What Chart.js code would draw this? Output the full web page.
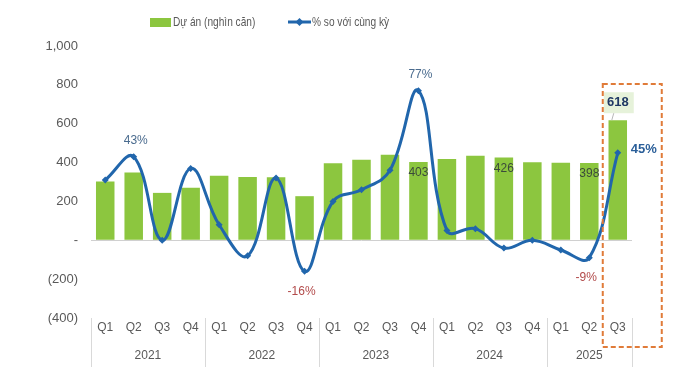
<!DOCTYPE html>
<html>
<head>
<meta charset="utf-8">
<script src="https://cdn.jsdelivr.net/npm/chart.js@4.4.0/dist/chart.umd.min.js"></script>
<style>
  html, body { margin: 0; padding: 0; background: #fff; }
  #wrap { width: 698px; height: 367px; }
</style>
</head>
<body>
<div id="wrap"><canvas id="chart" width="698" height="367"></canvas></div>
<script>
// quarter / year labels
const quarters = ['Q1','Q2','Q3','Q4','Q1','Q2','Q3','Q4','Q1','Q2','Q3','Q4','Q1','Q2','Q3','Q4','Q1','Q2','Q3'];
const years = ['2021', '2022', '2023', '2024', '2025'];
const yearSpans = [4, 4, 4, 4, 3];

// Dự án (nghìn căn)
const projects = [303, 349, 244, 271, 332, 326, 324, 227, 397, 414, 440, 403, 419, 435, 426, 402, 399, 398, 618];
// % so với cùng kỳ
const yoyPct = [31, 43, 0, 37, 8, -8, 32, -16, 20, 26, 36, 77, 5, 6, -4, 0, -5, -9, 45];

// which points get a value label
const barLabelIdx = [11, 14, 17, 18];
const pctLabelIdx = [1, 7, 11, 17, 18];

const GREEN = '#8cc63f';
const BLUE = '#2166ac';
const GREY = '#595959';
const FONT = '"Liberation Sans", Arial, sans-serif';

function yTick(v) {
  if (v === 0) return '-';
  if (v < 0) return '(' + Math.abs(v).toLocaleString('en-US') + ')';
  return v.toLocaleString('en-US');
}

// narrow-looking legend text (no condensed font installed)
function narrowText(ctx, txt, x, y) {
  ctx.save();
  ctx.translate(x, y);
  ctx.scale(0.78, 1);
  ctx.fillText(txt, 0, 0);
  ctx.restore();
}

const overlay = {
  id: 'overlay',
  afterDatasetsDraw(chart) {
    const ctx = chart.ctx;
    const x = chart.scales.x;
    const area = chart.chartArea;
    const barMeta = chart.getDatasetMeta(1);
    const lineMeta = chart.getDatasetMeta(0);
    ctx.save();

    // bar value labels
    barLabelIdx.forEach(i => {
      const el = barMeta.data[i];
      const v = projects[i];
      ctx.textAlign = 'center';
      ctx.textBaseline = 'middle';
      if (i === projects.length - 1) {
        const ty = el.y - 18;
        ctx.fillStyle = '#e6f2da';
        ctx.fillRect(el.x - 14, ty - 10, 30, 21);
        ctx.strokeStyle = '#b8b8b8';
        ctx.lineWidth = 1;
        ctx.beginPath();
        ctx.moveTo(el.x - 4, ty + 11);
        ctx.lineTo(el.x - 6, el.y);
        ctx.stroke();
        ctx.font = 'bold 13px ' + FONT;
        ctx.fillStyle = '#1f3864';
        ctx.fillText(String(v), el.x, ty);
      } else {
        ctx.font = '12px ' + FONT;
        ctx.fillStyle = '#3b4a3b';
        ctx.fillText(String(v), el.x, el.y + 11);
      }
    });

    // percentage labels
    pctLabelIdx.forEach(i => {
      const el = lineMeta.data[i];
      const v = yoyPct[i];
      const txt = v + '%';
      ctx.textBaseline = 'middle';
      if (i === yoyPct.length - 1) {
        ctx.font = 'bold 13px ' + FONT;
        ctx.fillStyle = '#2b5f99';
        ctx.textAlign = 'left';
        ctx.fillText(txt, el.x + 13, el.y - 3);
      } else if (v < 0) {
        ctx.font = '12px ' + FONT;
        ctx.fillStyle = '#b24a4a';
        ctx.textAlign = 'center';
        ctx.fillText(txt, el.x - 3, el.y + 20);
      } else {
        ctx.font = '12px ' + FONT;
        ctx.fillStyle = '#4a6b8e';
        ctx.textAlign = 'center';
        ctx.fillText(txt, el.x + 2, el.y - 16);
      }
    });

    // dashed highlight box around the last quarter
    const last = x.getPixelForValue(quarters.length - 1);
    ctx.strokeStyle = '#e07b39';
    ctx.lineWidth = 2;
    ctx.setLineDash([5, 3]);
    ctx.strokeRect(last - 15, area.top + 38, 59, 263);
    ctx.setLineDash([]);
    ctx.restore();
  },
  afterDraw(chart) {
    const ctx = chart.ctx;
    const x = chart.scales.x;
    const area = chart.chartArea;
    const half = (x.getPixelForValue(1) - x.getPixelForValue(0)) / 2;
    ctx.save();

    // year groups under the quarters
    ctx.strokeStyle = '#d9d9d9';
    ctx.lineWidth = 1;
    ctx.font = '12px ' + FONT;
    ctx.fillStyle = GREY;
    ctx.textAlign = 'center';
    ctx.textBaseline = 'middle';
    let start = 0;
    const drawSep = px => {
      ctx.beginPath();
      ctx.moveTo(Math.round(px) + 0.5, area.bottom);
      ctx.lineTo(Math.round(px) + 0.5, chart.height);
      ctx.stroke();
    };
    drawSep(x.getPixelForValue(0) - half);
    years.forEach((y, k) => {
      const end = start + yearSpans[k] - 1;
      const a = x.getPixelForValue(start) - half;
      const b = x.getPixelForValue(end) + half;
      drawSep(b);
      ctx.fillText(y, (a + b) / 2, area.bottom + 38);
      start = end + 1;
    });

    // legend
    ctx.font = '13px ' + FONT;
    ctx.textAlign = 'left';
    ctx.fillStyle = GREEN;
    ctx.fillRect(150, 18, 21, 9);
    ctx.fillStyle = GREY;
    narrowText(ctx, 'Dự án (nghìn căn)', 173, 22);
    ctx.strokeStyle = BLUE;
    ctx.lineWidth = 3;
    ctx.beginPath();
    ctx.moveTo(288, 22);
    ctx.lineTo(311, 22);
    ctx.stroke();
    ctx.fillStyle = BLUE;
    ctx.beginPath();
    ctx.moveTo(299.5, 18);
    ctx.lineTo(303.5, 22);
    ctx.lineTo(299.5, 26);
    ctx.lineTo(295.5, 22);
    ctx.closePath();
    ctx.fill();
    ctx.fillStyle = GREY;
    narrowText(ctx, '% so với cùng kỳ', 312, 22);
    ctx.restore();
  }
};

new Chart(document.getElementById('chart'), {
  data: {
    labels: quarters,
    datasets: [{
      type: 'line',
      label: '% so với cùng kỳ',
      data: yoyPct,
      yAxisID: 'y1',
      borderColor: BLUE,
      backgroundColor: BLUE,
      borderWidth: 3,
      tension: 0.4,
      pointStyle: 'rectRot',
      pointRadius: 3.5,
      pointBackgroundColor: BLUE,
      pointBorderWidth: 0,
      order: 0
    }, {
      type: 'bar',
      label: 'Dự án (nghìn căn)',
      data: projects,
      yAxisID: 'y',
      backgroundColor: GREEN,
      barPercentage: 0.65,
      categoryPercentage: 1,
      order: 1
    }]
  },
  options: {
    responsive: false,
    animation: false,
    layout: { padding: { top: 46, right: 66, left: 0, bottom: 0 } },
    plugins: {
      legend: { display: false },
      tooltip: { enabled: false }
    },
    scales: {
      x: {
        grid: { display: false, drawTicks: false },
        border: { display: false },
        ticks: { color: GREY, font: { size: 12, family: FONT }, padding: 2, maxRotation: 0, autoSkip: false },
        afterFit: s => { s.height = 49; }
      },
      y: {
        min: -400,
        max: 1000,
        grid: {
          drawTicks: false,
          color: c => (c.tick && c.tick.value === 0) ? '#d0d0d0' : 'rgba(0,0,0,0)'
        },
        border: { display: false },
        ticks: {
          stepSize: 200,
          color: GREY,
          font: { size: 13, family: FONT },
          padding: 13,
          callback: v => yTick(v)
        },
        afterFit: s => { s.width = 91; }
      },
      y1: {
        display: false,
        min: -40,
        max: 100
      }
    }
  },
  plugins: [overlay]
});
</script>
</body>
</html>
